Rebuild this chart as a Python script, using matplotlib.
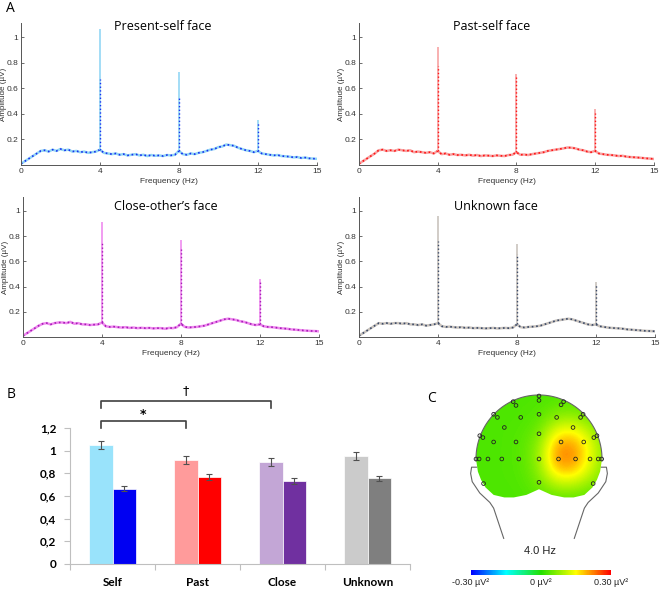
import numpy as np
import matplotlib
matplotlib.use("Agg")
import matplotlib.pyplot as plt
from matplotlib.colors import LinearSegmentedColormap
from matplotlib.path import Path
from matplotlib.patches import PathPatch

# --- spectra (A): noise floor every 0.2 Hz, peaks at harmonics ---
freq_step = 0.2
harmonics = [4, 8, 12]

self_floor = [0.01, 0.03, 0.05, 0.07, 0.09, 0.11, 0.115, 0.105, 0.12, 0.11,
              0.125, 0.115, 0.12, 0.105, 0.11, 0.10, 0.105, 0.095, 0.10, 0.105,
              0.12, 0.095, 0.09, 0.085, 0.09, 0.08, 0.085, 0.075, 0.08, 0.085,
              0.075, 0.08, 0.07, 0.078, 0.072, 0.075, 0.07, 0.078, 0.075, 0.08,
              0.11, 0.085, 0.08, 0.09, 0.085, 0.095, 0.10, 0.11, 0.12, 0.125,
              0.14, 0.145, 0.16, 0.155, 0.15, 0.135, 0.125, 0.115, 0.11, 0.10,
              0.11, 0.09, 0.085, 0.08, 0.075, 0.078, 0.07, 0.068, 0.065, 0.06,
              0.062, 0.055, 0.058, 0.052, 0.05, 0.048]
past_floor = [0.01, 0.03, 0.05, 0.07, 0.09, 0.115, 0.12, 0.11, 0.115, 0.11,
              0.12, 0.115, 0.11, 0.115, 0.10, 0.105, 0.10, 0.095, 0.10, 0.09,
              0.11, 0.085, 0.09, 0.08, 0.085, 0.078, 0.08, 0.075, 0.08, 0.073,
              0.078, 0.07, 0.075, 0.073, 0.07, 0.075, 0.072, 0.07, 0.078, 0.08,
              0.10, 0.08, 0.082, 0.078, 0.085, 0.09, 0.095, 0.10, 0.11, 0.115,
              0.12, 0.125, 0.13, 0.137, 0.135, 0.13, 0.12, 0.115, 0.105, 0.10,
              0.11, 0.09, 0.085, 0.08, 0.078, 0.075, 0.07, 0.072, 0.065, 0.062,
              0.06, 0.058, 0.055, 0.052, 0.05, 0.047]
close_floor = [0.01, 0.03, 0.05, 0.07, 0.09, 0.105, 0.11, 0.10, 0.11, 0.115,
               0.115, 0.11, 0.12, 0.105, 0.11, 0.10, 0.10, 0.095, 0.098, 0.10,
               0.115, 0.085, 0.08, 0.082, 0.078, 0.075, 0.078, 0.072, 0.075, 0.07,
               0.073, 0.07, 0.072, 0.068, 0.07, 0.07, 0.065, 0.072, 0.07, 0.078,
               0.105, 0.08, 0.075, 0.078, 0.08, 0.085, 0.09, 0.10, 0.11, 0.12,
               0.13, 0.14, 0.145, 0.14, 0.135, 0.125, 0.12, 0.11, 0.10, 0.095,
               0.10, 0.085, 0.08, 0.078, 0.075, 0.07, 0.068, 0.065, 0.06, 0.058,
               0.055, 0.052, 0.05, 0.048, 0.047, 0.045]
unknown_floor = [0.01, 0.03, 0.05, 0.07, 0.09, 0.11, 0.105, 0.11, 0.105, 0.11,
                 0.11, 0.105, 0.11, 0.10, 0.10, 0.095, 0.10, 0.09, 0.095, 0.10,
                 0.11, 0.085, 0.08, 0.082, 0.078, 0.075, 0.078, 0.072, 0.075, 0.07,
                 0.072, 0.07, 0.068, 0.07, 0.072, 0.068, 0.07, 0.072, 0.07, 0.075,
                 0.10, 0.078, 0.075, 0.08, 0.082, 0.085, 0.09, 0.10, 0.11, 0.12,
                 0.13, 0.135, 0.14, 0.145, 0.14, 0.13, 0.12, 0.11, 0.10, 0.095,
                 0.10, 0.085, 0.08, 0.075, 0.072, 0.07, 0.068, 0.065, 0.06, 0.058,
                 0.055, 0.053, 0.05, 0.048, 0.047, 0.045]

# peak amplitude at 4, 8, 12 Hz (light = first group, dark = second group)
self_peaks_light = [1.06, 0.73, 0.35]
self_peaks_dark = [0.67, 0.53, 0.34]
past_peaks_light = [0.92, 0.71, 0.44]
past_peaks_dark = [0.77, 0.69, 0.41]
close_peaks_light = [0.91, 0.77, 0.46]
close_peaks_dark = [0.75, 0.70, 0.44]
unknown_peaks_light = [0.96, 0.74, 0.44]
unknown_peaks_dark = [0.76, 0.655, 0.41]

spec_titles = ["Present-self face", "Past-self face", "Close-other\u2019s face", "Unknown face"]

# --- bar chart (B) ---
categories = ["Self", "Past", "Close", "Unknown"]
bar_light = [1.05, 0.915, 0.90, 0.95]
bar_light_err = [0.035, 0.035, 0.035, 0.035]
bar_dark = [0.665, 0.77, 0.735, 0.755]
bar_dark_err = [0.025, 0.028, 0.028, 0.025]

# --- topography (C) ---
topo_x = [-1.1, -0.825, -0.55, -0.275, 0.0, 0.275, 0.55, 0.825, 1.1]
topo_y = [1.1, 0.843, 0.586, 0.329, 0.071, -0.186, -0.443, -0.7]
topo_vals = [
    [0.03, 0.03, 0.03, 0.03, 0.03, 0.03, 0.03, 0.03, 0.03],
    [0.03, 0.03, 0.03, 0.03, 0.03, 0.04, 0.04, 0.035, 0.03],
    [0.03, 0.03, 0.03, 0.03, 0.04, 0.09, 0.10, 0.06, 0.04],
    [0.03, 0.03, 0.03, 0.035, 0.06, 0.18, 0.19, 0.11, 0.05],
    [0.03, 0.03, 0.03, 0.035, 0.08, 0.23, 0.23, 0.13, 0.05],
    [0.03, 0.03, 0.03, 0.035, 0.07, 0.19, 0.19, 0.11, 0.05],
    [0.03, 0.03, 0.03, 0.03, 0.05, 0.09, 0.09, 0.06, 0.04],
    [0.03, 0.03, 0.03, 0.03, 0.03, 0.03, 0.03, 0.03, 0.03],
]
elec_x = [0, -0.41, 0.39, 0, -0.365, 0.35,
          -0.72, -0.66, -0.29, 0, 0.28, 0.66, 0.70,
          -0.55, 0.54,
          -0.94, -0.89, -0.72, -0.365, 0, 0.35, 0.71, 0.87, 0.92,
          -1.0, -0.95, -0.81, -0.59, -0.32, 0, 0.31, 0.58, 0.81, 0.94, 0.995,
          -0.88, 0, 0.86]
elec_y = [1.0, 0.91, 0.91, 0.93, 0.85, 0.86,
          0.71, 0.66, 0.66, 0.71, 0.66, 0.66, 0.71,
          0.50, 0.50,
          0.37, 0.34, 0.27, 0.27, 0.40, 0.27, 0.27, 0.34, 0.37,
          0, 0, 0, 0, 0, 0, 0, 0, 0, 0, 0,
          -0.39, -0.37, -0.39]

W, H = 660, 589
fig = plt.figure(figsize=(W / 100, H / 100), dpi=100)


def box(x0, y0, x1, y1):
    # pixel box (top-left origin) -> figure fraction rect
    return [x0 / W, 1 - y1 / H, (x1 - x0) / W, (y1 - y0) / H]


spec_font = "Liberation Sans"
floors = [self_floor, past_floor, close_floor, unknown_floor]
peaks_l = [self_peaks_light, past_peaks_light, close_peaks_light, unknown_peaks_light]
peaks_d = [self_peaks_dark, past_peaks_dark, close_peaks_dark, unknown_peaks_dark]
light_cols = ["#93d7f5", "#f7a3a3", "#ef8cef", "#c9c3bd"]
dark_cols = ["#1a30f0", "#ff1515", "#a81cb8", "#3b4a68"]
boxes = [(21, 23, 317, 165), (359, 23, 654, 165), (23, 197, 319, 337), (359, 197, 655, 337)]
title_pos = [(0.48, 0.975), (0.45, 0.975), (0.483, 0.93), (0.463, 0.93)]

for i in range(4):
    ax = fig.add_axes(box(*boxes[i]))
    fl = np.array(floors[i])
    fr = np.arange(len(fl)) * freq_step
    ax.plot(fr, fl, color=light_cols[i], lw=1.8)
    ax.plot(fr, fl, color=dark_cols[i], lw=1.2, ls=":")
    base = [fl[int(round(h / freq_step))] for h in harmonics]
    ax.vlines(harmonics, base, peaks_l[i], color=light_cols[i], lw=1.2)
    ax.vlines(harmonics, base, peaks_d[i], color=dark_cols[i], lw=1.0, linestyles=":")
    ax.set_xlim(0, 15)
    ax.set_ylim(0, 1.11)
    ax.set_xticks([0, 4, 8, 12, 15])
    ax.set_yticks([0.2, 0.4, 0.6, 0.8, 1.0])
    ax.set_yticklabels(["0.2", "0.4", "0.6", "0.8", "1"])
    for s in ["top", "right"]:
        ax.spines[s].set_visible(False)
    for s in ["left", "bottom"]:
        ax.spines[s].set_color("#555555")
        ax.spines[s].set_linewidth(0.7)
    ax.tick_params(direction="in", length=2, width=0.6, color="#555555",
                   labelsize=6, labelcolor="#333333", pad=2)
    for lab in ax.get_xticklabels() + ax.get_yticklabels():
        lab.set_family(spec_font)
    ax.set_xlabel("Frequency (Hz)", fontsize=6, family=spec_font, color="#333333", labelpad=2)
    ax.set_ylabel("Amplitude (\u00b5V)", fontsize=5.8, family=spec_font, color="#333333")
    ax.yaxis.set_label_coords(-0.048, 0.5)
    ax.text(title_pos[i][0], title_pos[i][1], spec_titles[i], transform=ax.transAxes,
            ha="center", va="center", fontsize=9, family="Open Sans")

# --- B: bar chart ---
axb = fig.add_axes(box(70, 428, 410, 564))
xb = np.arange(len(categories))
w = 0.28
light_bar_cols = ["#99e3fb", "#ff9b9b", "#c3a6d6", "#cbcbcb"]
dark_bar_cols = ["#0000f2", "#ff0000", "#7030a0", "#7f7f7f"]
axb.bar(xb - w / 2, bar_light, w, color=light_bar_cols, edgecolor="white", lw=0.5,
        yerr=bar_light_err, error_kw=dict(ecolor="#505050", elinewidth=0.8, capsize=2, capthick=0.8))
axb.bar(xb + w / 2, bar_dark, w, color=dark_bar_cols, edgecolor="white", lw=0.5,
        yerr=bar_dark_err, error_kw=dict(ecolor="#505050", elinewidth=0.8, capsize=2, capthick=0.8))
axb.set_xlim(-0.5, 3.5)
axb.set_ylim(0, 1.2)
axb.set_yticks(np.arange(0, 1.21, 0.2))
axb.set_yticklabels(["0", "0,2", "0,4", "0,6", "0,8", "1", "1,2"])
axb.set_xticks([-0.5, 0.5, 1.5, 2.5, 3.5])
axb.set_xticklabels([])
axb.set_xticks(xb, minor=True)
axb.set_xticklabels(categories, minor=True)
axb.tick_params(axis="x", which="minor", length=0, pad=9)
axb.tick_params(axis="x", which="major", length=4, color="#bfbfbf", direction="out")
axb.tick_params(axis="y", length=4, color="#bfbfbf", pad=6)
for s in ["top", "right"]:
    axb.spines[s].set_visible(False)
for s in ["left", "bottom"]:
    axb.spines[s].set_color("#bfbfbf")
    axb.spines[s].set_linewidth(0.8)
for lab in axb.get_yticklabels() + axb.get_xticklabels(minor=True):
    lab.set_fontweight("bold")
    lab.set_fontsize(8.5)
    lab.set_family("Lato")

# significance brackets
def bracket(x0, x1, y_top, y_low, mark, y_mark, weight):
    axb.plot([x0, x0, x1, x1], [y_low, y_top, y_top, y_low], color="#404040",
             lw=1.2, clip_on=False)
    axb.text((x0 + x1) / 2, y_mark, mark, ha="center", va="center", fontsize=9,
             fontweight=weight, family="DejaVu Sans", clip_on=False)

bracket(xb[0] - w / 2, xb[1] - w / 2, 1.262, 1.20, "*", 1.32, "bold")
bracket(xb[0] - w / 2, xb[2] - w / 2, 1.44, 1.377, "\u2020", 1.53, "normal")

# --- C: topography ---
axc = fig.add_axes(box(462, 390, 616, 545))
axc.set_xlim(-1.222, 1.222)
axc.set_ylim(-1.365, 1.095)
axc.axis("off")
cmap = LinearSegmentedColormap.from_list(
    "topo", ["#0000ff", "#00ffff", "#22e000", "#ffff00", "#ff0000"])
dx = (topo_x[1] - topo_x[0]) / 2
dy = (topo_y[0] - topo_y[1]) / 2
im = axc.imshow(np.array(topo_vals), cmap=cmap, vmin=-0.3, vmax=0.3, interpolation="bicubic",
                extent=[topo_x[0] - dx, topo_x[-1] + dx, topo_y[-1] - dy, topo_y[0] + dy],
                aspect="auto", zorder=1)
ang = np.linspace(0, np.pi, 80)
arc_x = np.cos(ang)
arc_y = 1.016 * np.sin(ang)
low_x = [-0.97, -0.92, -0.85, -0.72, -0.55, -0.4, -0.2, 0.0, 0.2, 0.4, 0.55, 0.72, 0.85, 0.92, 0.97]
low_y = [-0.2, -0.33, -0.45, -0.57, -0.61, -0.61, -0.57, -0.48, -0.57, -0.61, -0.61, -0.57, -0.45, -0.33, -0.2]
head_x = np.concatenate([arc_x, low_x])
head_y = np.concatenate([arc_y, low_y])
head_path = Path(np.column_stack([head_x, head_y]), closed=False)
patch = PathPatch(head_path, facecolor="none", edgecolor="none", transform=axc.transData)
axc.add_patch(patch)
im.set_clip_path(patch)
ang2 = np.linspace(-0.03, np.pi + 0.03, 80)
axc.plot(np.cos(ang2), 1.016 * np.sin(ang2), color="#666666", lw=0.8, zorder=2)
ear_x = [-0.99, -1.07, -1.085, -1.06, -0.94, -0.78, -0.72, -0.56]
ear_y = [-0.13, -0.13, -0.23, -0.36, -0.54, -0.69, -0.78, -1.26]
axc.plot(ear_x, ear_y, color="#666666", lw=0.8, zorder=2)
axc.plot([-v for v in ear_x], ear_y, color="#666666", lw=0.8, zorder=2)
axc.scatter(elec_x, elec_y, s=7, facecolors="none", edgecolors="#222222", linewidths=0.6, zorder=3)

fig.text(540 / W, 1 - 551 / H, "4.0 Hz", ha="center", va="center", fontsize=8, family=spec_font,
         color="#222222")
cax = fig.add_axes(box(471, 570, 611, 575))
cb = fig.colorbar(im, cax=cax, orientation="horizontal", ticks=[-0.3, 0, 0.3])
cb.outline.set_visible(False)
cb.ax.set_xticklabels(["-0.30 \u00b5V\u00b2", "0 \u00b5V\u00b2", "0.30 \u00b5V\u00b2"])
cb.ax.tick_params(length=0, labelsize=6.5, pad=2, labelcolor="#222222")
for lab in cb.ax.get_xticklabels():
    lab.set_family(spec_font)

# panel letters
fig.text(10 / W, 1 - 9 / H, "A", ha="center", va="center", fontsize=10, family="Open Sans")
fig.text(11 / W, 1 - 394 / H, "B", ha="center", va="center", fontsize=10, family="Open Sans")
fig.text(432 / W, 1 - 399 / H, "C", ha="center", va="center", fontsize=10, family="Open Sans")

fig.savefig("out.png", dpi=100)
